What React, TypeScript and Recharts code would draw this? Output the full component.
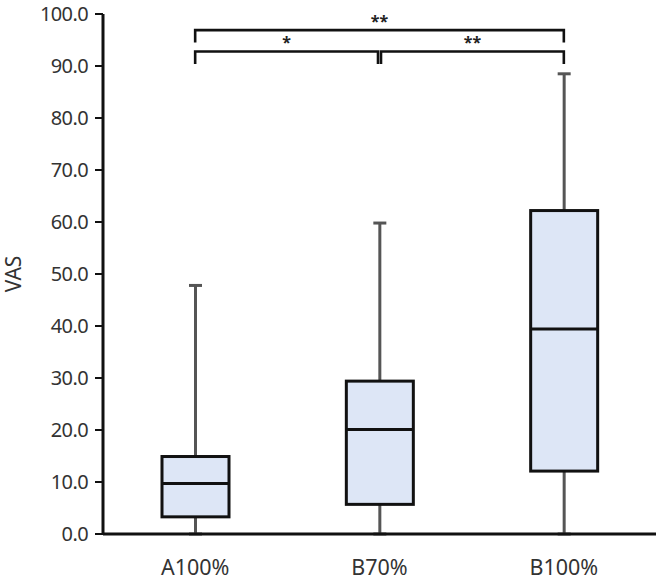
import { ComposedChart, Bar, XAxis, YAxis, ReferenceLine } from "recharts";

const categories = ["A100%", "B70%", "B100%"];
const mins = [0, 0, 0];
const q1s = [3.3, 5.7, 12.1];
const medians = [9.7, 20.1, 39.4];
const q3s = [14.9, 29.4, 62.2];
const maxs = [47.8, 59.8, 88.5];
const yTicks = [0, 10, 20, 30, 40, 50, 60, 70, 80, 90, 100];

// significance brackets between category pairs
const bracketFrom = ["A100%", "A100%", "B70%"];
const bracketTo = ["B100%", "B70%", "B100%"];
const bracketY = [96.9, 92.8, 92.8];
const bracketDrop = [94.5, 90.4, 90.4];
const bracketLabels = ["**", "*", "**"];
// small pixel nudge so the two lower brackets don't touch at B70%
const bracketNudge = [
  [0, 0],
  [0, -1.5],
  [1.5, 0],
];

const data = categories.map((name, i) => ({
  name,
  min: mins[i],
  q1: q1s[i],
  median: medians[i],
  q3: q3s[i],
  max: maxs[i],
}));

const font = "'Noto Sans', sans-serif";

function BoxShape(props: any) {
  const { x, y, width, height, payload } = props;
  const lo = payload.min;
  const hi = payload.max;
  const ppu = height / (hi - lo);
  const toY = (v: number) => y + (hi - v) * ppu;
  const cx = x + width / 2;
  const cap = 6.5;
  return (
    <g>
      <line x1={cx} x2={cx} y1={toY(hi)} y2={toY(lo)} stroke="#555" strokeWidth={3} />
      <line x1={cx - cap} x2={cx + cap} y1={toY(hi)} y2={toY(hi)} stroke="#555" strokeWidth={3} />
      <line x1={cx - cap} x2={cx + cap} y1={toY(lo)} y2={toY(lo)} stroke="#555" strokeWidth={3} />
      <rect
        x={x}
        y={toY(payload.q3)}
        width={width}
        height={toY(payload.q1) - toY(payload.q3)}
        fill="#dde6f6"
        stroke="#111"
        strokeWidth={3}
      />
      <line x1={x} x2={x + width} y1={toY(payload.median)} y2={toY(payload.median)} stroke="#111" strokeWidth={3} />
    </g>
  );
}

function makeBracket(i: number) {
  const [nl, nr] = bracketNudge[i];
  const dropPx = (bracketY[i] - bracketDrop[i]) * 5.2;
  return function BracketShape(p: any) {
    const xl = p.x1 + nl;
    const xr = p.x2 + nr;
    const y = p.y1;
    return (
      <g>
        <path
          d={`M${xl},${y + dropPx} L${xl},${y} L${xr},${y} L${xr},${y + dropPx}`}
          fill="none"
          stroke="#111"
          strokeWidth={2.6}
        />
        <text
          x={(xl + xr) / 2}
          y={y - 3}
          textAnchor="middle"
          fill="#222"
          fontSize={16}
          fontWeight="bold"
          fontFamily={font}
        >
          {bracketLabels[i]}
        </text>
      </g>
    );
  };
}

export default function App() {
  return (
    <div style={{ position: "absolute", left: 0, top: 0, background: "#fff" }}>
      <ComposedChart width={660} height={580} data={data} margin={{ top: 14, right: 4, bottom: 0, left: 0 }}>
        <XAxis
          dataKey="name"
          height={46}
          axisLine={{ stroke: "#111", strokeWidth: 3 }}
          tickLine={false}
          tickMargin={20}
          tick={{ fill: "#333", fontSize: 21.5, fontFamily: font }}
        />
        <YAxis
          width={103}
          domain={[0, 100]}
          ticks={yTicks}
          interval={0}
          tickFormatter={(v: number) => v.toFixed(1)}
          axisLine={{ stroke: "#111", strokeWidth: 3 }}
          tickLine={{ stroke: "#111", strokeWidth: 2 }}
          tickSize={8}
          tickMargin={7}
          tick={{ fill: "#333", fontSize: 20, fontFamily: font, letterSpacing: -0.6 }}
          label={{
            value: "VAS",
            angle: -90,
            position: "insideLeft",
            offset: 14,
            style: { fill: "#333", fontSize: 21, fontFamily: font, textAnchor: "middle" },
          }}
        />
        <Bar
          dataKey={(d: any) => [d.min, d.max]}
          barSize={67}
          shape={<BoxShape />}
          isAnimationActive={false}
        />
        {bracketLabels.map((_, i) => (
          <ReferenceLine
            key={i}
            segment={[
              { x: bracketFrom[i], y: bracketY[i] },
              { x: bracketTo[i], y: bracketY[i] },
            ]}
            ifOverflow="visible"
            shape={makeBracket(i)}
          />
        ))}
      </ComposedChart>
    </div>
  );
}
